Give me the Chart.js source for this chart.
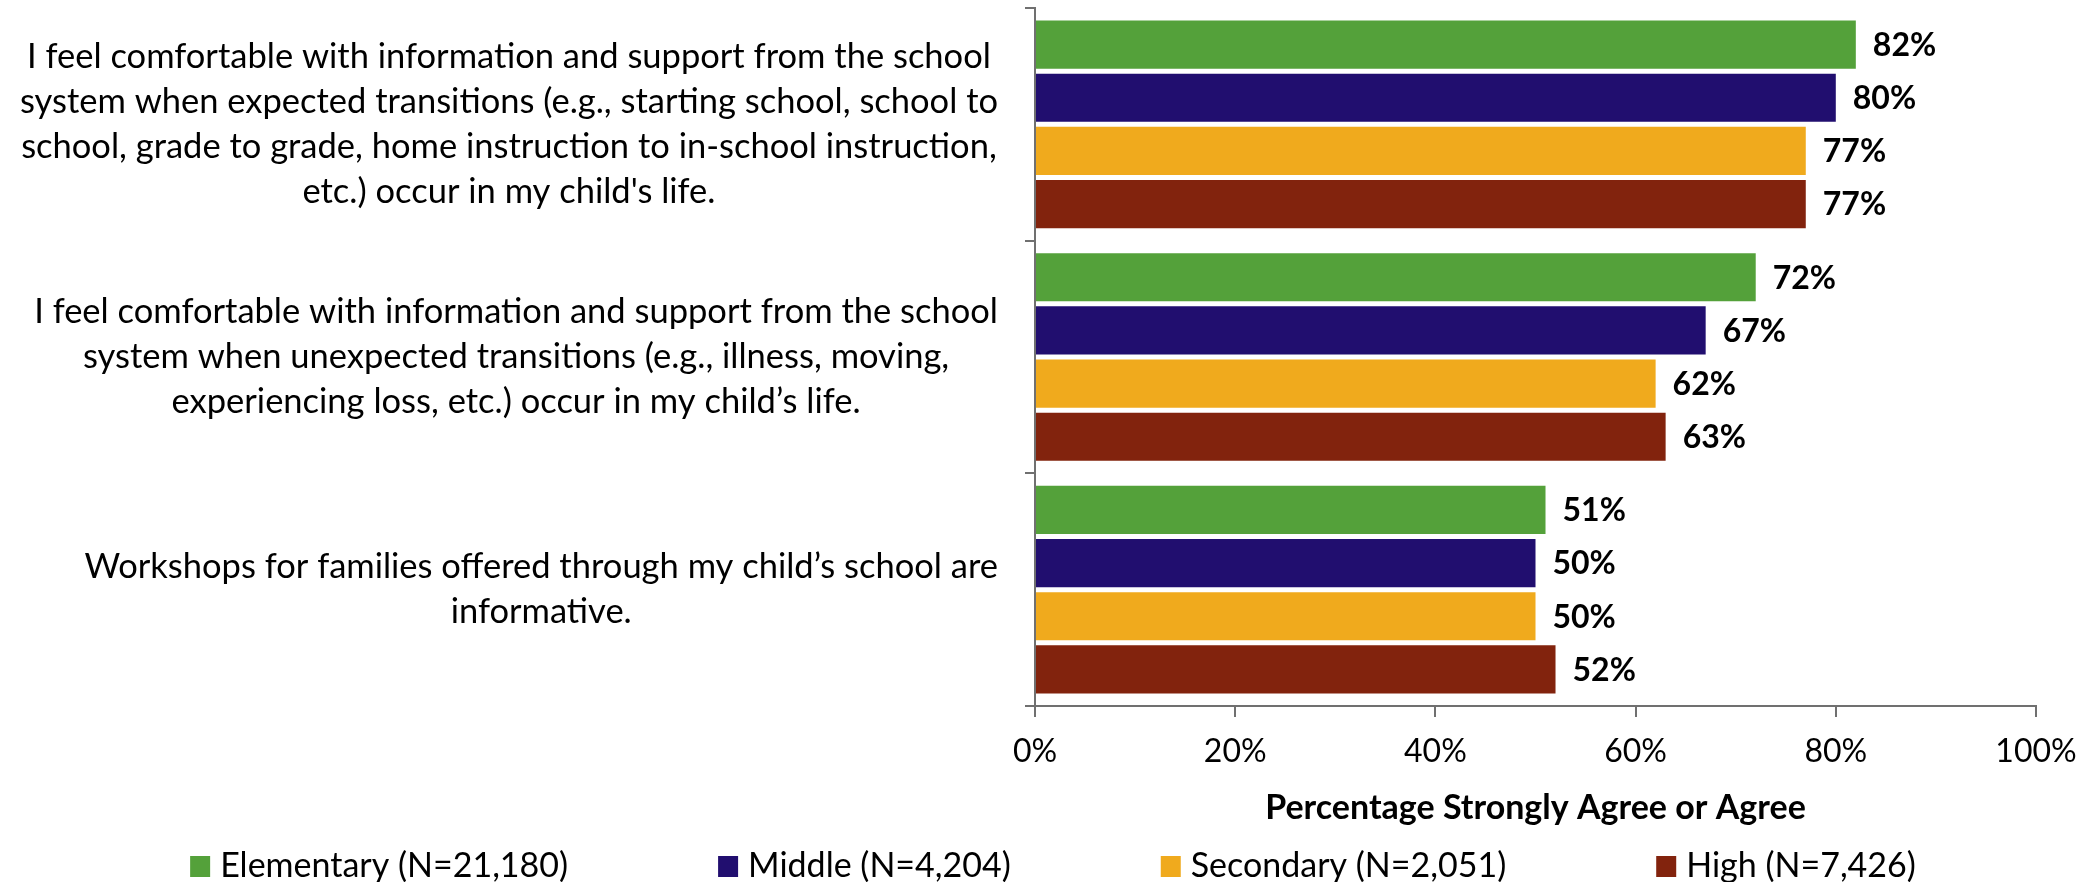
<!DOCTYPE html>
<html>
<head>
<meta charset="utf-8">
<title>Transitions and workshops</title>
<script src="https://cdn.jsdelivr.net/npm/chart.js"></script>
<style>
  html, body { margin: 0; padding: 0; background: #fff; }
</style>
</head>
<body>
<canvas id="barChart" width="2092" height="882"></canvas>
<script>
// data
const questions = [
  ["I feel comfortable with information and support from the school",
   "system when expected transitions (e.g., starting school, school to",
   "school, grade to grade, home instruction to in-school instruction,",
   "etc.) occur in my child's life."],
  ["I feel comfortable with information and support from the school",
   "system when unexpected transitions (e.g., illness, moving,",
   "experiencing loss, etc.) occur in my child’s life."],
  ["Workshops for families offered through my child’s school are",
   "informative."]
];
const seriesNames = ["Elementary (N=21,180)", "Middle (N=4,204)", "Secondary (N=2,051)", "High (N=7,426)"];
const elementary = [82, 72, 51];
const middle = [80, 67, 50];
const secondary = [77, 62, 50];
const high = [77, 63, 52];
const xTicks = [0, 20, 40, 60, 80, 100];
const axisTitle = "Percentage Strongly Agree or Agree";

const family = 'Lato, "Open Sans", sans-serif';
const axisGray = '#707070';
const colors = ['#54A13A', '#210E6F', '#F0AA1D', '#82230D'];

// category labels: lines centred inside a right-aligned block
const categoryLabels = {
    id: 'categoryLabels',
    afterDraw(chart) {
        const { ctx } = chart;
        const y = chart.scales.y;
        ctx.save();
        ctx.font = '34.5px ' + family;
        ctx.fillStyle = '#000';
        ctx.textAlign = 'center';
        ctx.textBaseline = 'middle';
        questions.forEach((lines, i) => {
            const cy = y.getPixelForValue(i);
            const block = Math.max(...lines.map(l => ctx.measureText(l).width));
            const cx = 998 - block / 2;
            lines.forEach((line, j) => {
                ctx.fillText(line, cx, cy + (j - (lines.length - 1) / 2) * 45);
            });
        });
        ctx.restore();
    }
};

// value labels at the end of each bar
const valueLabels = {
    id: 'valueLabels',
    afterDatasetsDraw(chart) {
        const { ctx } = chart;
        ctx.save();
        ctx.font = 'bold 32px ' + family;
        ctx.fillStyle = '#000';
        ctx.textAlign = 'left';
        ctx.textBaseline = 'middle';
        chart.data.datasets.forEach((ds, i) => {
            chart.getDatasetMeta(i).data.forEach((bar, j) => {
                ctx.fillText(ds.data[j] + '%', bar.x + 17, bar.y + 1);
            });
        });
        ctx.restore();
    }
};

// legend row with wide gaps between items
const bottomLegend = {
    id: 'bottomLegend',
    afterDraw(chart) {
        const { ctx } = chart;
        ctx.save();
        ctx.font = '34px ' + family;
        ctx.textBaseline = 'middle';
        ctx.textAlign = 'left';
        const gap = 150;
        const widths = chart.data.datasets.map(ds => 30 + ctx.measureText(ds.label).width);
        const total = widths.reduce((a, b) => a + b, 0) + gap * (widths.length - 1);
        let x = (chart.width - total) / 2 + 7;
        chart.data.datasets.forEach((ds, i) => {
            ctx.fillStyle = ds.backgroundColor;
            ctx.fillRect(x, 856, 20, 21);
            ctx.fillStyle = '#000';
            ctx.fillText(ds.label, x + 30, 866);
            x += widths[i] + gap;
        });
        ctx.restore();
    }
};

const ctx = document.getElementById('barChart').getContext('2d');
const barChart = new Chart(ctx, {
    type: 'bar',
    data: {
        labels: questions,
        datasets: [elementary, middle, secondary, high].map((d, i) => ({
            label: seriesNames[i],
            data: d,
            backgroundColor: colors[i],
            borderWidth: 0,
            categoryPercentage: 0.914,
            barPercentage: 0.906
        }))
    },
    options: {
        indexAxis: 'y',
        responsive: false,
        animation: false,
        layout: { padding: { top: 8, right: 56, bottom: 50, left: 0 } },
        plugins: {
            legend: { display: false },
            tooltip: { enabled: false }
        },
        scales: {
            x: {
                min: 0,
                max: 100,
                afterBuildTicks: axis => { axis.ticks = xTicks.map(v => ({ value: v })); },
                ticks: {
                    callback: v => v + '%',
                    font: { family: family, size: 32 },
                    color: '#000',
                    padding: 15,
                    maxRotation: 0
                },
                grid: { drawOnChartArea: false, tickLength: 11, color: axisGray, lineWidth: 2 },
                border: { color: axisGray, width: 2 },
                title: {
                    display: true,
                    text: axisTitle,
                    color: '#000',
                    font: { family: family, size: 34, weight: 'bold' },
                    padding: { top: 0, bottom: 4 }
                },
                afterFit: s => { s.height = 126; }
            },
            y: {
                ticks: { display: false },
                grid: { drawOnChartArea: false, tickLength: 10, color: axisGray, lineWidth: 2 },
                border: { color: axisGray, width: 2 },
                afterFit: s => { s.width = 1035; }
            }
        }
    },
    plugins: [categoryLabels, valueLabels, bottomLegend]
});
</script>
</body>
</html>
